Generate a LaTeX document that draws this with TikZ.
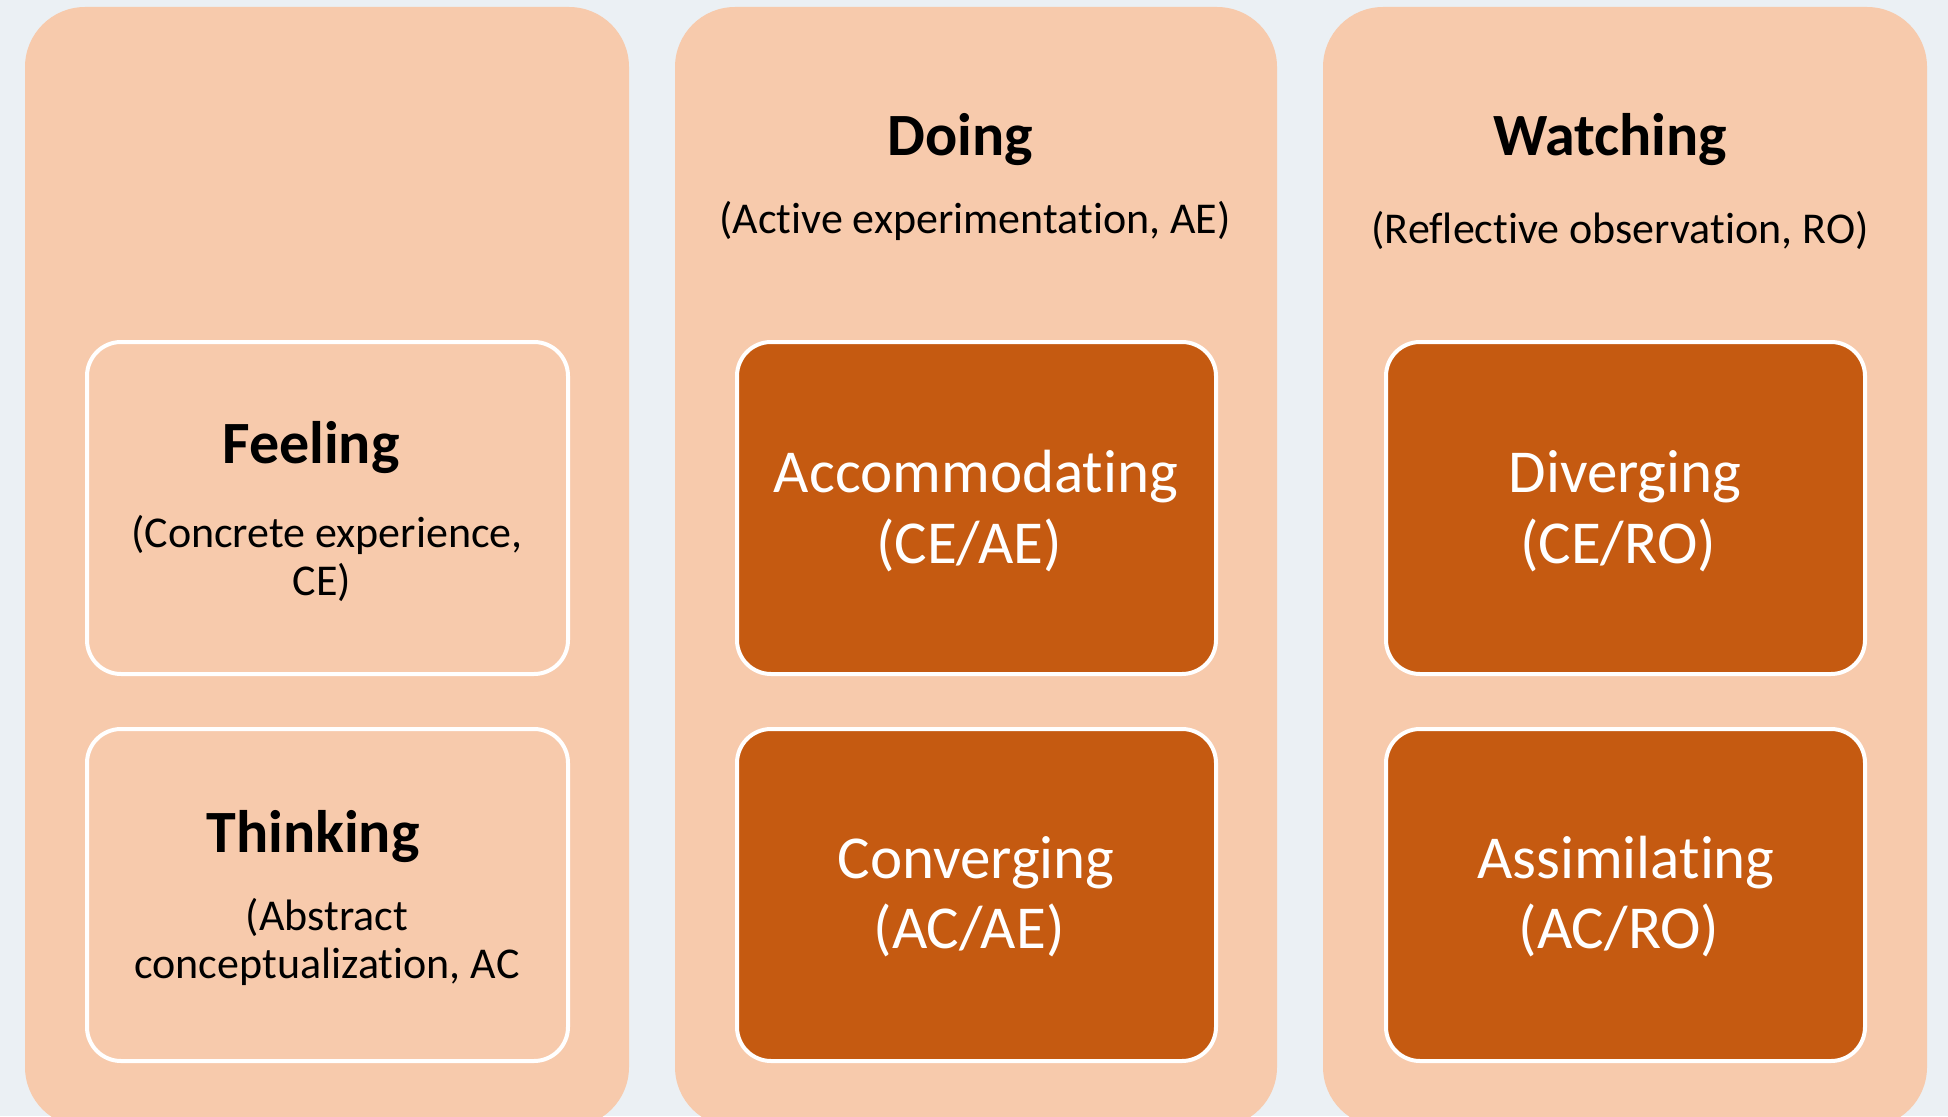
\documentclass[tikz,border=0pt]{standalone}
\usepackage{fontspec}
\setmainfont[Ligatures=NoCommon]{Carlito}
\definecolor{bg}{HTML}{EBF0F4}
\definecolor{peach}{HTML}{F7CAAC}
\definecolor{rust}{HTML}{C55A11}
\begin{document}
\begin{tikzpicture}[x=1pt,y=-1pt,
  column/.style={fill=peach, rounded corners=60pt, inner sep=0pt, outer sep=0pt},
  lightbox/.style={draw=white, line width=4pt, fill=peach, rounded corners=34pt, inner sep=0pt},
  darkbox/.style={draw=white, line width=4pt, fill=rust, rounded corners=34pt, inner sep=0pt},
  heading/.style={anchor=base, font=\fontsize{60}{72}\selectfont\bfseries, text=black, inner sep=0pt},
  subtext/.style={anchor=base, font=\fontsize{44}{53}\selectfont, text=black, inner sep=0pt},
  boxtext/.style={anchor=base, font=\fontsize{61}{73}\selectfont, text=white, inner sep=0pt}]
\useasboundingbox (0,0) rectangle (1948,1116);
\fill[bg] (0,0) rectangle (1948,1116);
\begin{scope}
\clip (0,0) rectangle (1948,1116);
\node (c1) [column, minimum width=604pt, minimum height=1120pt] at (327,567) {};
\node (c2) [column, minimum width=602pt, minimum height=1120pt] at (976,567) {};
\node (c3) [column, minimum width=604pt, minimum height=1120pt] at (1625,567) {};
\end{scope}
% left column boxes
\node (feel) [lightbox, minimum width=481pt, minimum height=332pt] at (327.5,508) {};
\node (think) [lightbox, minimum width=481pt, minimum height=332pt] at (327.5,895) {};
% middle column boxes
\node (acc) [darkbox, minimum width=479pt, minimum height=332pt] at (976.5,508) {};
\node (conv) [darkbox, minimum width=479pt, minimum height=332pt] at (976.5,895) {};
% right column boxes
\node (div) [darkbox, minimum width=479pt, minimum height=332pt] at (1625.5,508) {};
\node (assim) [darkbox, minimum width=479pt, minimum height=332pt] at (1625.5,895) {};
% column headings
\node (doing) [heading] at (960,155) {Doing};
\node (doingsub) [subtext] at (975,233) {(Active experimentation, AE)};
\node (watch) [heading] at (1610,155) {Watching};
\node (watchsub) [subtext] at (1620,243) {(Reflective observation, RO)};
% left texts
\node (feelh) [heading] at (311,463) {Feeling};
\node (feels1) [subtext] at (327,547) {(Concrete experience,};
\node (feels2) [subtext] at (322,595) {CE)};
\node (thinkh) [heading] at (313,852) {Thinking};
\node (thinks1) [subtext] at (327,930) {(Abstract};
\node (thinks2) [subtext] at (327,978) {conceptualization, AC};
% box texts
\node (acct1) [boxtext] at (976,492) {Accommodating};
\node (acct2) [boxtext] at (969,563) {(CE/AE)};
\node (convt1) [boxtext] at (976,878) {Converging};
\node (convt2) [boxtext] at (969,948) {(AC/AE)};
\node (divt1) [boxtext] at (1625,492) {Diverging};
\node (divt2) [boxtext] at (1618,563) {(CE/RO)};
\node (assimt1) [boxtext] at (1626,878) {Assimilating};
\node (assimt2) [boxtext] at (1619,948) {(AC/RO)};
\end{tikzpicture}
\end{document}
